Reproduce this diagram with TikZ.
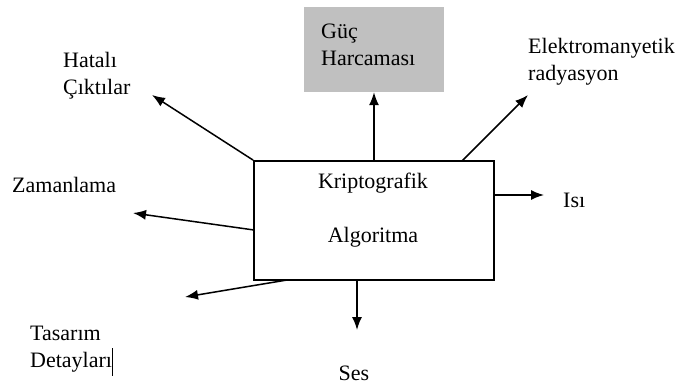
\documentclass[tikz,border=0pt]{standalone}
\usepackage{fontspec}
\setmainfont{Liberation Serif}
\usetikzlibrary{arrows.meta}
\definecolor{boxgray}{RGB}{192,192,192}

\begin{document}
\begin{tikzpicture}[x=1pt,y=-1pt,
    lbl/.style={font=\fontsize{22}{27}\selectfont, inner sep=0pt, align=left},
    flow/.style={line width=1.5pt, -{Latex[length=13pt,width=10pt]}}]
      \useasboundingbox (0,0) rectangle (682,385);
      % central box and power box
      \node[draw, line width=1.8pt, minimum width=240pt, minimum height=119pt] (algo) at (374,220.5) {};
      \node[lbl, align=center] (algotext) at (373,210) {Kriptografik\\[27pt]Algoritma};
      \node[fill=boxgray, minimum width=140pt, minimum height=85pt, inner sep=0pt] (guc) at (374,49.5) {};
      \node[lbl, anchor=west] (guctext) at (321,45) {Güç\\Harcaması};
      % leak labels
      \node[lbl, anchor=west] (hatali) at (63,76) {Hatalı\\Çıktılar};
      \node[lbl, anchor=west] (zaman) at (12,185) {Zamanlama};
      \node[lbl, anchor=west] (tasarim) at (30,349.5) {Tasarım\\Detayları\smash{\rule[-8pt]{0.9pt}{28pt}}};
      \node[lbl, anchor=west] (elektro) at (528,61.5) {Elektromanyetik\\radyasyon};
      \node[lbl, anchor=west] (isi) at (563,200) {Isı};
      \node[lbl] (ses) at (354,373) {Ses};
      % arrow ends
      \coordinate (zamanS) at (254,230);
      \coordinate (tasarimS) at (287,280);
      \coordinate (elektroS) at (462,161);
      \coordinate (isiS) at (494,195);
      \coordinate (sesS) at (357,280);
      \coordinate (hataliE) at (152,95);
      \coordinate (zamanE) at (133,213);
      \coordinate (tasarimE) at (185,297);
      \coordinate (elektroE) at (528,95);
      \coordinate (isiE) at (544,195);
      \coordinate (sesE) at (357,330);
      \draw[flow] (algo.north west) -- (hataliE);
      \draw[flow] (zamanS) -- (zamanE);
      \draw[flow] (tasarimS) -- (tasarimE);
      \draw[flow] (algo.north) -- (guc.south);
      \draw[flow] (elektroS) -- (elektroE);
      \draw[flow] (isiS) -- (isiE);
      \draw[flow] (sesS) -- (sesE);
\end{tikzpicture}
\end{document}
